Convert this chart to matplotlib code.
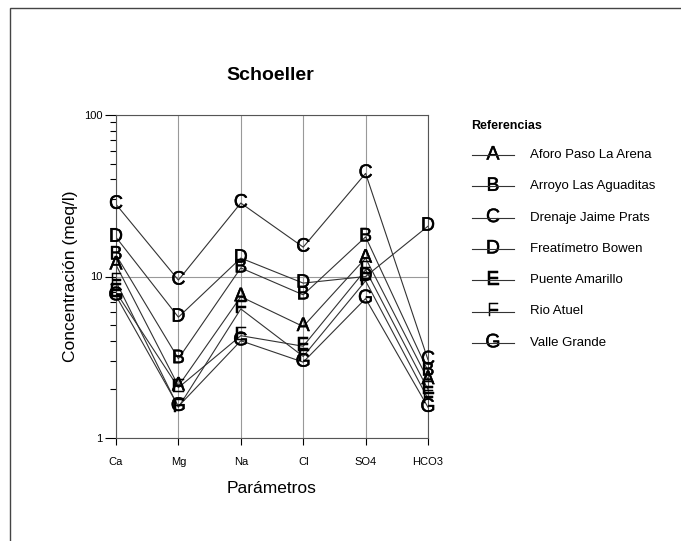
import matplotlib
matplotlib.use("Agg")
import matplotlib.pyplot as plt
import matplotlib.patheffects as pe
from matplotlib.lines import Line2D
from matplotlib.patches import Rectangle

plt.rcParams['font.family'] = ['Liberation Sans', 'DejaVu Sans']

parametros = ["Ca", "Mg", "Na", "Cl", "SO4", "HCO3"]
letras = ["A", "B", "C", "D", "E", "F", "G"]
referencias = ["Aforo Paso La Arena", "Arroyo Las Aguaditas", "Drenaje Jaime Prats",
               "Freatímetro Bowen", "Puente Amarillo", "Rio Atuel", "Valle Grande"]

aforo = [11.8, 2.1, 7.5, 4.9, 13.0, 2.3]
arroyo = [13.6, 3.1, 11.3, 7.7, 17.6, 2.6]
drenaje = [28.0, 9.5, 28.5, 15.2, 43.5, 3.05]
freatimetro = [17.5, 5.6, 13.0, 9.1, 10.0, 20.5]
puente = [8.0, 2.05, 4.3, 3.7, 11.0, 2.0]
atuel = [9.3, 1.55, 6.3, 3.2, 9.4, 1.75]
valle = [7.6, 1.57, 4.0, 2.95, 7.3, 1.55]

series = [aforo, arroyo, drenaje, freatimetro, puente, atuel, valle]

grueso = [pe.withStroke(linewidth=0.35, foreground='black')]

fig = plt.figure(figsize=(6.81, 5.41), dpi=100)
fig.patches.append(Rectangle((10 / 681, -0.1), 1.1, 1 - 8 / 541 + 0.1, transform=fig.transFigure,
                             fill=False, edgecolor='#444444', linewidth=1.0))

ax = fig.add_axes([116 / 681, 103 / 541, 312 / 681, 323 / 541])
x = list(range(len(parametros)))
for vals, letra in zip(series, letras):
    ax.plot(x, vals, color='#333333', linewidth=0.8)
    for xi, v in zip(x, vals):
        ax.text(xi, v, letra, ha='center', va='center', fontsize=14, color='black',
                path_effects=grueso)

ax.set_yscale('log')
ax.set_ylim(1, 100)
ax.set_xlim(0, 5)
ax.set_xticks(x)
ax.set_xticklabels(parametros, fontsize=8)
ax.set_yticks([1, 10, 100])
ax.set_yticklabels(["1", "10", "100"], fontsize=8)
ax.tick_params(axis='y', which='major', length=8, width=0.8, direction='out', pad=2)
ax.tick_params(axis='y', which='minor', length=4, width=0.8, direction='out')
ax.tick_params(axis='x', length=5, width=0.8, direction='out', pad=9)
ax.grid(True, which='major', color='#999999', linewidth=0.8)
for s in ax.spines.values():
    s.set_color('#555555')
    s.set_linewidth(0.8)

ax.set_ylabel("Concentración (meq/l)", fontsize=12.5, labelpad=4)
ax.set_xlabel("Parámetros", fontsize=12.5, labelpad=10)
fig.text(270 / 681, 1 - 75 / 541, "Schoeller", ha='center', va='center', fontsize=14, fontweight='bold')

# leyenda
fig.text(471 / 681, 1 - 126 / 541, "Referencias", ha='left', va='center', fontsize=9, fontweight='bold')
for i, (letra, nombre) in enumerate(zip(letras, referencias)):
    yy = 1 - (155 + i * 31.3) / 541
    fig.lines.append(Line2D([472 / 681, 514 / 681], [yy, yy], transform=fig.transFigure,
                            color='#333333', linewidth=0.8, zorder=5))
    fig.text(493 / 681, yy, letra, ha='center', va='center', fontsize=14, path_effects=grueso)
    fig.text(530 / 681, yy, nombre, ha='left', va='center', fontsize=9.5)

fig.savefig("out.png", dpi=100)
